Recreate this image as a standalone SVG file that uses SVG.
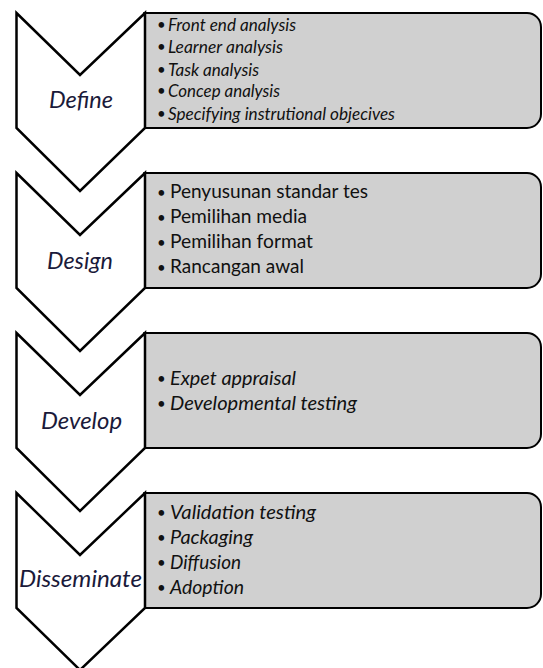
<svg xmlns="http://www.w3.org/2000/svg" width="543" height="668" viewBox="0 0 543 668">
<style>
.box{fill:#d0d0d0;stroke:#000;stroke-width:2;stroke-linejoin:round}
.chev{fill:#fff;stroke:#000;stroke-width:2.5;stroke-linejoin:miter}
text{font-family:Lato,"Open Sans",sans-serif;fill:#111}
.lbl{font-style:italic;font-size:23.5px;fill:#1a1a3a;text-anchor:middle}
.it{font-style:italic;font-size:16.5px}
.it2{font-style:italic;font-size:19.5px}
.up{font-size:18.5px}
.b{font-size:15px}
</style>
<rect width="543" height="668" fill="#fff"/>
<g id="connectors"></g>
<g id="define">
<path class="box" d="M144,13 H527 A14,14 0 0 1 541,27 V114 A14,14 0 0 1 527,128 H144 Z"/>
<polygon class="chev" points="16.5,13 80,75 145,13 145,128 80,191 16.5,128"/>
<text class="lbl" x="81" y="108" textLength="64" lengthAdjust="spacingAndGlyphs">Define</text>
<text class="b" x="157" y="30">•</text><text class="it" x="168" y="31" textLength="128" lengthAdjust="spacingAndGlyphs">Front end analysis</text>
<text class="b" x="157" y="52">•</text><text class="it" x="168" y="53" textLength="115" lengthAdjust="spacingAndGlyphs">Learner analysis</text>
<text class="b" x="157" y="75">•</text><text class="it" x="168" y="76" textLength="91" lengthAdjust="spacingAndGlyphs">Task analysis</text>
<text class="b" x="157" y="96">•</text><text class="it" x="168" y="97" textLength="112" lengthAdjust="spacingAndGlyphs">Concep analysis</text>
<text class="b" x="157" y="119">•</text><text class="it" x="168" y="120" textLength="227" lengthAdjust="spacingAndGlyphs">Specifying instrutional objecives</text>
</g>
<g id="design">
<path class="box" d="M144,173 H527 A14,14 0 0 1 541,187 V274 A14,14 0 0 1 527,288 H144 Z"/>
<polygon class="chev" points="16.5,173 80,235 145,173 145,288 80,351 16.5,288"/>
<text class="lbl" x="80" y="269" textLength="66" lengthAdjust="spacingAndGlyphs">Design</text>
<text class="b" x="157" y="198">•</text><text class="up" x="170" y="198" textLength="198" lengthAdjust="spacingAndGlyphs">Penyusunan  standar tes</text>
<text class="b" x="157" y="223">•</text><text class="up" x="170" y="223" textLength="137" lengthAdjust="spacingAndGlyphs">Pemilihan media</text>
<text class="b" x="157" y="248">•</text><text class="up" x="170" y="248" textLength="143" lengthAdjust="spacingAndGlyphs">Pemilihan format</text>
<text class="b" x="157" y="273">•</text><text class="up" x="170" y="273" textLength="134" lengthAdjust="spacingAndGlyphs">Rancangan awal</text>
</g>
<g id="develop">
<path class="box" d="M144,333 H527 A14,14 0 0 1 541,347 V434 A14,14 0 0 1 527,448 H144 Z"/>
<polygon class="chev" points="16.5,333 80,395 145,333 145,448 80,511 16.5,448"/>
<text class="lbl" x="81.5" y="429" textLength="81" lengthAdjust="spacingAndGlyphs">Develop</text>
<text class="b" x="157" y="384">•</text><text class="it2" x="170" y="385" textLength="126" lengthAdjust="spacingAndGlyphs">Expet appraisal</text>
<text class="b" x="157" y="409">•</text><text class="it2" x="170" y="410" textLength="187" lengthAdjust="spacingAndGlyphs">Developmental testing</text>
</g>
<g id="disseminate">
<path class="box" d="M144,493 H527 A14,14 0 0 1 541,507 V594 A14,14 0 0 1 527,608 H144 Z"/>
<polygon class="chev" points="16.5,493 80,555 145,493 145,608 80,670 16.5,608"/>
<text class="lbl" x="80.5" y="587" textLength="123" lengthAdjust="spacingAndGlyphs">Disseminate</text>
<text class="b" x="157" y="518">•</text><text class="it2" x="170" y="519" textLength="146" lengthAdjust="spacingAndGlyphs">Validation  testing</text>
<text class="b" x="157" y="543">•</text><text class="it2" x="170" y="544" textLength="83" lengthAdjust="spacingAndGlyphs">Packaging</text>
<text class="b" x="157" y="568">•</text><text class="it2" x="170" y="569" textLength="71" lengthAdjust="spacingAndGlyphs">Diffusion</text>
<text class="b" x="157" y="593">•</text><text class="it2" x="170" y="594" textLength="74" lengthAdjust="spacingAndGlyphs">Adoption</text>
</g>
</svg>
